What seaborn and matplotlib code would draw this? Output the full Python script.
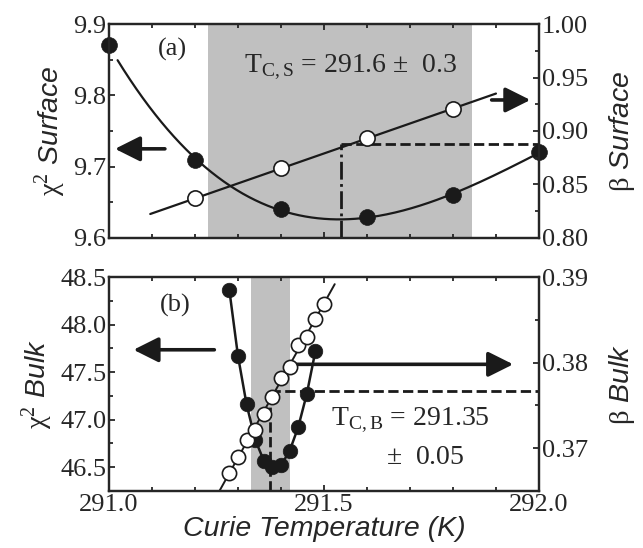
import numpy as np
import pandas as pd
import matplotlib
matplotlib.use("Agg")
import matplotlib.pyplot as plt
import matplotlib.ticker as mticker
import seaborn as sns

# ── Data ────────────────────────────────────────────────
# (a) surface
surf_T_chi = [291.0, 291.2, 291.4, 291.6, 291.8, 292.0]
surf_chi2 = [9.87, 9.71, 9.64, 9.63, 9.66, 9.72]
surf_T_beta = [291.2, 291.4, 291.6, 291.8]
surf_beta = [0.837, 0.865, 0.893, 0.921]
surf_band = (291.23, 291.845)
surf_tc, surf_tc_beta = 291.54, 0.888

# (b) bulk
bulk_T_chi = [291.28, 291.30, 291.32, 291.34, 291.36, 291.38,
              291.40, 291.42, 291.44, 291.46, 291.48]
bulk_chi2 = [48.36, 47.67, 47.16, 46.79, 46.57, 46.50,
             46.52, 46.67, 46.92, 47.27, 47.72]
bulk_T_beta = [291.28, 291.30, 291.32, 291.34, 291.36, 291.38,
               291.40, 291.42, 291.44, 291.46, 291.48, 291.50]
bulk_beta = [0.3671, 0.3690, 0.3710, 0.3721, 0.3740, 0.3760,
             0.3782, 0.3795, 0.3821, 0.3830, 0.3851, 0.3869]
bulk_band = (291.33, 291.422)
bulk_tc, bulk_tc_beta = 291.374, 0.3767

# ── Style ───────────────────────────────────────────────
sns.set_theme(style="ticks")
plt.rcParams["font.family"] = ["Liberation Serif", "DejaVu Serif"]
plt.rcParams["mathtext.fontset"] = "custom"
plt.rcParams["mathtext.rm"] = "Liberation Serif"
plt.rcParams["mathtext.it"] = "Liberation Sans:italic"
plt.rcParams["axes.linewidth"] = 1.6
plt.rcParams["xtick.direction"] = "in"
plt.rcParams["ytick.direction"] = "in"

FS = 19
LAB = dict(family="Liberation Sans", style="italic", fontsize=20.5)
GRAY = "#c0c0c0"


def style_ax(ax):
    ax.tick_params(which="both", labelsize=FS, width=1.3, top=True, pad=2)
    ax.tick_params(which="major", length=4)
    ax.tick_params(which="minor", length=3)
    ax.set_xlim(291.0, 292.0)
    ax.xaxis.set_major_locator(mticker.MultipleLocator(0.5))
    ax.xaxis.set_minor_locator(mticker.MultipleLocator(0.1))


def arrow(ax, tip, tail, lw=2.6):
    ax.annotate("", xy=tip, xytext=tail,
                arrowprops=dict(arrowstyle="-|>,head_length=0.9,head_width=0.45",
                                lw=lw, color="k", mutation_scale=17,
                                shrinkA=0, shrinkB=0))


fig = plt.figure(figsize=(6.43, 5.48), dpi=100)

# ────────────────────────────────────────────────────────
# (a) Surface
# ────────────────────────────────────────────────────────
ax1 = fig.add_axes([0.1695, 0.5657, 0.6687, 0.3905])
ax1r = ax1.twinx()
style_ax(ax1); style_ax(ax1r)
ax1.set_ylim(9.6, 9.9)
ax1r.set_ylim(0.80, 1.00)
ax1.yaxis.set_major_locator(mticker.MultipleLocator(0.1))
ax1.yaxis.set_minor_locator(mticker.MultipleLocator(0.05))
ax1r.yaxis.set_major_locator(mticker.MultipleLocator(0.05))
ax1r.yaxis.set_minor_locator(mticker.MultipleLocator(0.025))
ax1r.yaxis.set_major_formatter(mticker.FormatStrFormatter("%.2f"))
ax1.tick_params(axis="x", labelbottom=False)
ax1r.tick_params(axis="x", labelbottom=False)
ax1.tick_params(axis="y", right=False)
ax1r.tick_params(axis="y", left=False)

ax1.axvspan(*surf_band, color=GRAY, lw=0, zorder=0)

# fitted curves
tt = np.linspace(291.02, 291.985, 200)
chi_fit = np.polyval(np.polyfit(surf_T_chi, surf_chi2, 3), tt)
sns.lineplot(x=tt, y=chi_fit, ax=ax1, color="k", lw=1.6)
sns.scatterplot(x=surf_T_chi, y=surf_chi2, ax=ax1, s=130, color="k",
                edgecolor="k", linewidth=0.5, zorder=5, clip_on=False)

tb = np.linspace(291.096, 291.90, 50)
beta_fit = np.polyval(np.polyfit(surf_T_beta, surf_beta, 1), tb)
sns.lineplot(x=tb, y=beta_fit, ax=ax1r, color="k", lw=1.6)
sns.scatterplot(x=surf_T_beta, y=surf_beta, ax=ax1r, s=120, color="white",
                edgecolor="k", linewidth=1.2, zorder=5)

ax1r.plot([surf_tc, surf_tc], [0.80, surf_tc_beta], ls="-.", color="k", lw=2.0)
ax1r.plot([surf_tc, 292.0], [surf_tc_beta, surf_tc_beta], ls="--", color="k", lw=2.0)

arrow(ax1, (291.014, 9.725), (291.13, 9.725))
arrow(ax1r, (291.98, 0.929), (291.89, 0.929))

ax1.text(291.148, 9.865, "(a)", fontsize=FS, ha="center", va="center")
ax1.text(291.563, 9.84, r"T$_\mathrm{C,S}$ = 291.6 $\pm$  0.3", fontsize=20,
         ha="center", va="center")

ax1.set_ylabel(r"$\mathrm{\chi}^{2}$ Surface", **LAB, labelpad=4)
ax1r.set_ylabel(r"$\mathrm{\beta}$ Surface", **LAB, labelpad=14)

# ────────────────────────────────────────────────────────
# (b) Bulk
# ────────────────────────────────────────────────────────
ax2 = fig.add_axes([0.1695, 0.104, 0.6687, 0.3905])
ax2r = ax2.twinx()
style_ax(ax2); style_ax(ax2r)
ax2.set_ylim(46.25, 48.5)
ax2r.set_ylim(0.365, 0.39)
ax2.yaxis.set_major_locator(mticker.MultipleLocator(0.5))
ax2.yaxis.set_minor_locator(mticker.MultipleLocator(0.25))
ax2r.yaxis.set_major_locator(mticker.MultipleLocator(0.01))
ax2r.yaxis.set_minor_locator(mticker.MultipleLocator(0.005))
ax2r.yaxis.set_major_formatter(mticker.FormatStrFormatter("%.2f"))
ax2.xaxis.set_major_formatter(mticker.FormatStrFormatter("%.1f"))
ax2.tick_params(axis="y", right=False)
ax2r.tick_params(axis="y", left=False)
ax2r.tick_params(axis="x", labelbottom=False)

ax2.axvspan(*bulk_band, color=GRAY, lw=0, zorder=0)

sns.lineplot(x=bulk_T_chi, y=bulk_chi2, ax=ax2, color="k", lw=1.8,
             sort=False)
sns.scatterplot(x=bulk_T_chi, y=bulk_chi2, ax=ax2, s=110, color="k",
                edgecolor="k", linewidth=0.5, zorder=5)

tb2 = np.linspace(291.255, 291.525, 50)
beta_fit2 = np.polyval(np.polyfit(bulk_T_beta, bulk_beta, 1), tb2)
sns.lineplot(x=tb2, y=beta_fit2, ax=ax2r, color="k", lw=1.4)
sns.scatterplot(x=bulk_T_beta, y=bulk_beta, ax=ax2r, s=105, color="white",
                edgecolor="k", linewidth=1.2, zorder=5)

ax2r.plot([bulk_tc, bulk_tc], [0.365, bulk_tc_beta], ls="--", color="k", lw=2.0)
ax2r.plot([bulk_tc, 292.0], [bulk_tc_beta, bulk_tc_beta], ls="--", color="k", lw=2.0)

arrow(ax2, (291.057, 47.735), (291.245, 47.735))
arrow(ax2r, (291.94, 0.3798), (291.433, 0.3798))

ax2.text(291.153, 48.2, "(b)", fontsize=FS, ha="center", va="center")
ax2r.text(291.70, 0.3733, r"T$_\mathrm{C,B}$ = 291.35", fontsize=20,
          ha="center", va="center")
ax2r.text(291.735, 0.3689, r"$\pm$  0.05", fontsize=20, ha="center", va="center")

ax2.set_ylabel(r"$\mathrm{\chi}^{2}$ Bulk", **LAB, labelpad=4)
ax2r.set_ylabel(r"$\mathrm{\beta}$ Bulk", **LAB, labelpad=14)
ax2.set_xlabel("Curie Temperature (K)", **LAB, labelpad=0)

fig.savefig("out.png", dpi=100)
